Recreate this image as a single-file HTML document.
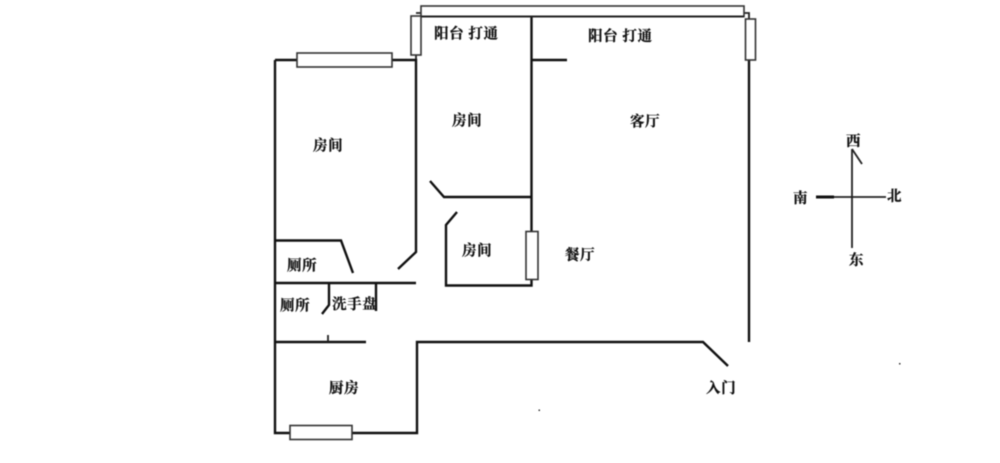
<!DOCTYPE html>
<html><head><meta charset="utf-8"><style>
html,body{margin:0;padding:0;background:#fff;width:1000px;height:463px;overflow:hidden}
svg{display:block}
text{font-family:"Liberation Serif","Noto Serif CJK SC","Noto Sans CJK SC",serif;font-size:14.5px;font-weight:700;fill:#111;stroke:#111;stroke-width:.25px;letter-spacing:.6px}
.w{fill:none;stroke:#111;stroke-width:2.4}
.t{fill:none;stroke:#222;stroke-width:1.8}
.b{fill:#fff;stroke:#333;stroke-width:1.6}
</style></head><body>
<svg width="1000" height="463" viewBox="0 0 1000 463" xmlns="http://www.w3.org/2000/svg">
<g style="filter:blur(.4px)">
<path class="w" d="M275 60V433H417V342H703L728 366"/>
<path class="w" d="M275 60H416V252L398 269"/>
<path class="t" d="M416 59V16M416 13H421M744 13H749V20"/>
<path class="w" d="M531.500 16V285.500H446V225L457 212"/>
<path class="w" d="M531 60H567M532 197H444L430 181"/>
<path class="w" d="M749 58V342"/>
<path class="w" d="M275 240.500H341L353 273"/>
<path class="w" d="M275 283H416M329 283V305L322 314M376 283V311"/>
<path class="w" d="M275 342H366"/>
<path class="t" d="M328 335V342"/>
<rect class="b" x="421" y="6" width="323" height="10.500"/>
<path d="M421 16.500H744" stroke="#222" stroke-width="2"/>
<rect class="b" x="297" y="53" width="95" height="14"/>
<rect class="b" x="411" y="16" width="10" height="39"/>
<rect class="b" x="745.500" y="19" width="10" height="41"/>
<rect class="b" x="526" y="231.500" width="12" height="48"/>
<rect class="b" x="290" y="425.500" width="62" height="14"/>
<path class="t" d="M852 149V248M816 197H886M852 149L862 164"/>
<path d="M816 197H834" stroke="#111" stroke-width="3"/>
<rect x="538.500" y="409.500" width="1.500" height="1.500" fill="#333"/>
<rect x="899" y="363" width="1.500" height="1.500" fill="#333"/>
<text x="434" y="38.500">阳台 打通</text>
<text x="588" y="41">阳台 打通</text>
<text x="313" y="150.500">房间</text>
<text x="452" y="125.500">房间</text>
<text x="630" y="126.500">客厅</text>
<text x="462" y="255.500">房间</text>
<text x="565" y="260">餐厅</text>
<text x="287" y="270.500">厕所</text>
<text x="280" y="310.500">厕所</text>
<text x="332" y="309">洗手盘</text>
<text x="329" y="393">厨房</text>
<text x="706" y="393">入门</text>
<text x="846" y="146">西</text>
<text x="793" y="203">南</text>
<text x="887" y="201">北</text>
<text x="849" y="265">东</text>
</g>
</svg>
</body></html>
